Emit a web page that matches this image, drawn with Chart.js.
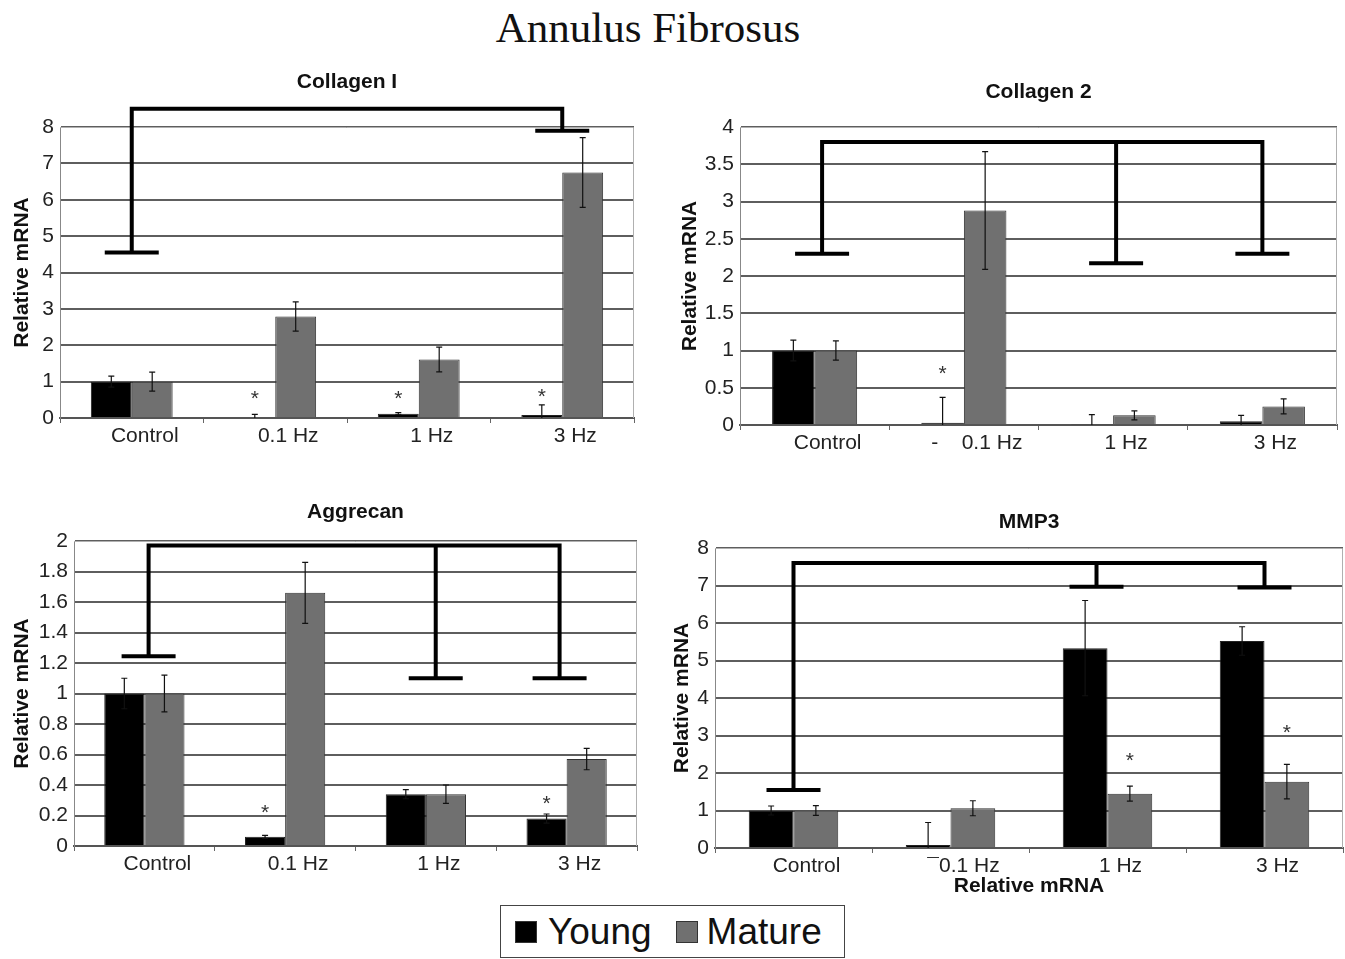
<!DOCTYPE html>
<html lang="en">
<head>
  <meta charset="UTF-8">
  <title>Annulus Fibrosus</title>
  <style>
    body {
      margin: 0;
      background: #fff;
      font-family: 'Liberation Sans', Arial, sans-serif;
    }
    #page {
      position: relative;
      width: 1345px;
      height: 959px;
      overflow: hidden;
    }
    h1 {
      position: absolute;
      left: 0;
      top: 4px;
      width: 1296px;
      margin: 0;
      text-align: center;
      font-family: 'Liberation Serif', 'Times New Roman', serif;
      font-weight: normal;
      font-size: 43px;
      line-height: 48px;
      color: #111;
    }
    .panel { position: absolute; }
    .legend {
      position: absolute;
      left: 500px;
      top: 905px;
      width: 343px;
      height: 51px;
      border: 1.5px solid #444;
      font-size: 37px;
      line-height: 51px;
      color: #111;
      white-space: nowrap;
    }
    .legend span.box {
      display: inline-block;
      width: 22px;
      height: 22px;
      margin: 0 11px 0 14px;
      vertical-align: 1px;
      border: 1px solid #333;
      box-sizing: border-box;
    }
  </style>
</head>
<body>
<div id="page">
  <h1>Annulus Fibrosus</h1>
  <div class="panel" style="left:0px;top:60px;"><canvas id="col1" width="650" height="410"></canvas></div>
  <div class="panel" style="left:670px;top:60px;"><canvas id="col2" width="675" height="410"></canvas></div>
  <div class="panel" style="left:0px;top:490px;"><canvas id="agg" width="660" height="400"></canvas></div>
  <div class="panel" style="left:670px;top:495px;"><canvas id="mmp" width="675" height="405"></canvas></div>
  <div class="legend"><span class="box" style="background:#000"></span>Young<span class="box" style="background:#707070;margin-left:24px;margin-right:9px"></span>Mature</div>
</div>

<script src="https://cdn.jsdelivr.net/npm/chart.js"></script>
<script>
// categories
const categories = ['Control', '0.1 Hz', '1 Hz', '3 Hz'];
const col2Labels = ['Control', '-    0.1 Hz', '1 Hz', '3 Hz'];
const mmpLabels = ['Control', '\u00af0.1 Hz', '1 Hz', '3 Hz'];

// Collagen I
const col1Young = [1.0, 0.03, 0.12, 0.08];
const col1YoungErr = [0.15, 0.07, 0.03, 0.28];
const col1Mature = [1.0, 2.79, 1.61, 6.75];
const col1MatureErr = [0.26, 0.4, 0.34, 0.96];
const col1Stars = [null, 0.65, 0.65, 0.72];
const col1Ticks = ['0', '1', '2', '3', '4', '5', '6', '7', '8'];
const col1BracketTop = 8.5;
const col1BracketDrops = [[0, 4.55], [3, 7.9]];

// Collagen 2
const col2Young = [1.0, 0.03, 0.01, 0.05];
const col2YoungErr = [0.14, 0.34, 0.13, 0.08];
const col2Mature = [1.0, 2.88, 0.13, 0.25];
const col2MatureErr = [0.13, 0.79, 0.06, 0.1];
const col2Stars = [null, 0.75, null, null];
const col2Ticks = ['0', '0.5', '1', '1.5', '2', '2.5', '3', '3.5', '4'];
const col2BracketTop = 3.8;
const col2BracketDrops = [[0.05, 2.3], [2.02, 2.17], [3, 2.3]];

// Aggrecan
const aggYoung = [1.0, 0.06, 0.34, 0.18];
const aggYoungErr = [0.1, 0.01, 0.03, 0.03];
const aggMature = [1.0, 1.66, 0.34, 0.57];
const aggMatureErr = [0.12, 0.2, 0.06, 0.07];
const aggStars = [null, 0.25, null, 0.31];
const aggTicks = ['0', '0.2', '0.4', '0.6', '0.8', '1', '1.2', '1.4', '1.6', '1.8', '2'];
const aggBracketTop = 1.97;
const aggBracketDrops = [[0.03, 1.245], [2.07, 1.1], [2.95, 1.1]];

// MMP3
const mmpYoung = [1.0, 0.08, 5.33, 5.52];
const mmpYoungErr = [0.12, 0.6, 1.27, 0.38];
const mmpMature = [1.0, 1.06, 1.45, 1.77];
const mmpMatureErr = [0.13, 0.2, 0.2, 0.46];
const mmpStars = [null, null, 2.45, 3.2];
const mmpTicks = ['0', '1', '2', '3', '4', '5', '6', '7', '8'];
const mmpBracketTop = 7.6;
const mmpBracketDrops = [[0, 1.55], [1.93, 6.97], [3, 6.95]];

const FONT = "'Liberation Sans', Arial, sans-serif";
const YOUNG = '#000000';
const MATURE = '#707070';

// thin frame round the plot area
const framePlugin = {
  id: 'frame',
  beforeDatasetsDraw(chart) {
    const { ctx, chartArea: a } = chart;
    ctx.save();
    ctx.strokeStyle = '#b0b0b0';
    ctx.lineWidth = 1;
    ctx.beginPath();
    ctx.moveTo(a.left, a.top + 0.5);
    ctx.lineTo(a.right - 0.5, a.top + 0.5);
    ctx.lineTo(a.right - 0.5, a.bottom);
    ctx.stroke();
    ctx.restore();
  }
};

// error bars + asterisks taken from the dataset arrays
const errorPlugin = {
  id: 'errors',
  afterDatasetsDraw(chart) {
    const { ctx, chartArea: a } = chart;
    const y = chart.scales.y;
    ctx.save();
    ctx.beginPath();
    ctx.rect(a.left, a.top, a.width, a.height);
    ctx.clip();
    chart.data.datasets.forEach((ds, i) => {
      const meta = chart.getDatasetMeta(i);
      meta.data.forEach((bar, j) => {
        const v = ds.data[j], e = ds.errors[j];
        const t = y.getPixelForValue(v + e), b = y.getPixelForValue(v - e);
        ctx.strokeStyle = '#111';
        ctx.lineWidth = 1.2;
        ctx.beginPath();
        ctx.moveTo(bar.x, t); ctx.lineTo(bar.x, b);
        ctx.moveTo(bar.x - 3, t); ctx.lineTo(bar.x + 3, t);
        ctx.moveTo(bar.x - 3, b); ctx.lineTo(bar.x + 3, b);
        ctx.stroke();
      });
    });
    ctx.restore();

    ctx.save();
    ctx.fillStyle = '#333';
    ctx.font = '21px ' + FONT;
    ctx.textAlign = 'center';
    ctx.textBaseline = 'middle';
    chart.data.datasets.forEach((ds, i) => {
      if (!ds.stars) return;
      const meta = chart.getDatasetMeta(i);
      ds.stars.forEach((s, j) => {
        if (s === null) return;
        ctx.fillText('*', meta.data[j].x, y.getPixelForValue(s) + 5);
      });
    });
    ctx.restore();
  }
};

function makeBracket(top, drops) {
  return {
    id: 'bracket',
    afterDatasetsDraw(chart) {
      const { ctx } = chart;
      const { x, y } = chart.scales;
      const ty = y.getPixelForValue(top);
      const xs = drops.map(d => x.getPixelForValue(d[0]));
      ctx.save();
      ctx.strokeStyle = '#000';
      ctx.lineWidth = 4;
      ctx.lineCap = 'square';
      ctx.beginPath();
      ctx.moveTo(xs[0], ty);
      ctx.lineTo(xs[xs.length - 1], ty);
      drops.forEach((d, i) => {
        const dy = y.getPixelForValue(d[1]);
        ctx.moveTo(xs[i], ty);
        ctx.lineTo(xs[i], dy);
        ctx.moveTo(xs[i] - 25, dy);
        ctx.lineTo(xs[i] + 25, dy);
      });
      ctx.stroke();
      ctx.restore();
    }
  };
}

function makePanel(id, p) {
  const titleLH = 21 * 1.2;
  const yTitleLH = 21 * 1.2;
  const lay = p.layout;
  new Chart(document.getElementById(id), {
    type: 'bar',
    data: {
      labels: p.labels,
      datasets: [
        { label: 'Young', data: p.young, errors: p.youngErr, stars: p.youngStars,
          backgroundColor: YOUNG, borderColor: '#222', borderWidth: 1 },
        { label: 'Mature', data: p.mature, errors: p.matureErr, stars: p.matureStars,
          backgroundColor: MATURE, borderColor: '#333', borderWidth: 1 }
      ]
    },
    options: {
      responsive: false,
      animation: false,
      barPercentage: 1,
      categoryPercentage: 0.57,
      layout: { padding: { left: 0, right: lay.padRight, top: 0, bottom: 0 } },
      plugins: {
        legend: { display: false },
        tooltip: { enabled: false },
        title: {
          display: true,
          fullSize: false,
          text: p.title,
          color: '#111',
          font: { family: FONT, size: 21, weight: 'bold' },
          padding: { top: lay.titleY - titleLH / 2, bottom: lay.plotTop - lay.titleY - titleLH / 2 }
        }
      },
      scales: {
        x: {
          offset: true,
          grid: { display: true, drawOnChartArea: false, drawTicks: true, tickLength: 5, color: '#666', lineWidth: 1 },
          border: { color: '#555', width: 2 },
          ticks: { color: '#222', font: { family: FONT, size: 21 }, padding: 1, labelOffset: 13, maxRotation: 0, autoSkip: false },
          title: p.xTitle ? {
            display: true, text: p.xTitle, color: '#111',
            font: { family: FONT, size: 21, weight: 'bold' },
            padding: { top: 0, bottom: 1 }
          } : { display: false },
          afterFit: s => { s.height = lay.xAxisH; }
        },
        y: {
          min: 0,
          max: p.max,
          ticks: {
            stepSize: p.step,
            autoSkip: false,
            color: '#222',
            padding: 6,
            font: { family: FONT, size: 21 },
            callback: (v, i) => p.ticks[i]
          },
          grid: { color: '#5e5e5e', lineWidth: 2, drawTicks: false },
          border: { color: '#888', width: 1 },
          title: {
            display: true, text: 'Relative mRNA', color: '#111',
            font: { family: FONT, size: 21, weight: 'bold' },
            padding: { top: lay.yTitleX - yTitleLH / 2, bottom: 0 }
          },
          afterFit: s => { s.width = lay.yAxisW; }
        }
      }
    },
    plugins: [framePlugin, errorPlugin, makeBracket(p.bracketTop, p.bracketDrops)]
  });
}

makePanel('col1', {
  title: 'Collagen I', labels: categories,
  young: col1Young, youngErr: col1YoungErr, youngStars: col1Stars,
  mature: col1Mature, matureErr: col1MatureErr, matureStars: null,
  max: 8, step: 1, ticks: col1Ticks,
  bracketTop: col1BracketTop, bracketDrops: col1BracketDrops,
  layout: { yAxisW: 60, padRight: 16, xAxisH: 52, titleY: 22, plotTop: 67, yTitleX: 22 }
});

makePanel('col2', {
  title: 'Collagen 2', labels: col2Labels,
  young: col2Young, youngErr: col2YoungErr, youngStars: col2Stars,
  mature: col2Mature, matureErr: col2MatureErr, matureStars: null,
  max: 4, step: 0.5, ticks: col2Ticks,
  bracketTop: col2BracketTop, bracketDrops: col2BracketDrops,
  layout: { yAxisW: 70, padRight: 8, xAxisH: 45, titleY: 32, plotTop: 67, yTitleX: 20 }
});

makePanel('agg', {
  title: 'Aggrecan', labels: categories,
  young: aggYoung, youngErr: aggYoungErr, youngStars: aggStars,
  mature: aggMature, matureErr: aggMatureErr, matureStars: null,
  max: 2, step: 0.2, ticks: aggTicks,
  bracketTop: aggBracketTop, bracketDrops: aggBracketDrops,
  layout: { yAxisW: 74, padRight: 23, xAxisH: 44, titleY: 22, plotTop: 51, yTitleX: 22 }
});

makePanel('mmp', {
  title: 'MMP3', labels: mmpLabels, xTitle: 'Relative mRNA',
  young: mmpYoung, youngErr: mmpYoungErr, youngStars: null,
  mature: mmpMature, matureErr: mmpMatureErr, matureStars: mmpStars,
  max: 8, step: 1, ticks: mmpTicks,
  bracketTop: mmpBracketTop, bracketDrops: mmpBracketDrops,
  layout: { yAxisW: 45, padRight: 2, xAxisH: 52, titleY: 27, plotTop: 53, yTitleX: 12 }
});
</script>
</body>
</html>
